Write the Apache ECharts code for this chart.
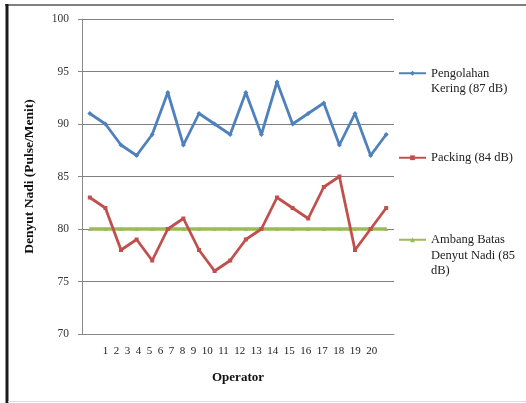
<!DOCTYPE html>
<html>
<head>
<meta charset="utf-8">
<script src="https://cdn.jsdelivr.net/npm/echarts@6/dist/echarts.min.js"></script>
<style>
  html, body { margin: 0; padding: 0; background: #fff; }
  #chart { width: 526px; height: 403px; }
</style>
</head>
<body>
<div id="chart"></div>
<script>
// Operator numbers along the x axis
const operators = ['1','2','3','4','5','6','7','8','9','10','11','12','13','14','15','16','17','18','19','20'];

// Pulse rate (beats per minute) per operator
const pengolahanKering = [91, 90, 88, 87, 89, 93, 88, 91, 90, 89, 93, 89, 94, 90, 91, 92, 88, 91, 87, 89];
const packing = [83, 82, 78, 79, 77, 80, 81, 78, 76, 77, 79, 80, 83, 82, 81, 84, 85, 78, 80, 82];
const ambangBatas = [80, 80, 80, 80, 80, 80, 80, 80, 80, 80, 80, 80, 80, 80, 80, 80, 80, 80, 80, 80];

const seriesNames = [
  'Pengolahan\nKering (87 dB)',
  'Packing (84 dB)',
  'Ambang Batas\nDenyut Nadi (85\ndB)'
];

// Y axis range and tick step
const yMin = 70, yMax = 100, yStep = 5;

const serif = '"Liberation Serif", "Times New Roman", serif';
const colors = ['#4F81BD', '#C0504D', '#9BBB59'];

// Legend text: pad with leading blank lines so the symbol sits beside the first line
function legendText(name) {
  return '\n'.repeat(name.split('\n').length - 1) + name;
}

function makeLegend(idx, top) {
  return {
    data: [seriesNames[idx]],
    left: 398,
    top: top,
    orient: 'vertical',
    itemWidth: 27,
    itemHeight: 6,
    itemGap: 0,
    padding: 0,
    formatter: legendText,
    textStyle: { fontFamily: serif, fontSize: 12.5, color: '#222', lineHeight: 15.5 }
  };
}

const chart = echarts.init(document.getElementById('chart'), null, { renderer: 'canvas' });

chart.setOption({
  backgroundColor: '#fff',
  animation: false,
  color: colors,
  grid: { left: 82, right: 132, top: 19, bottom: 69, containLabel: false },
  legend: [
    makeLegend(0, 50),
    makeLegend(1, 150),
    makeLegend(2, 201)
  ],
  xAxis: [
    {
      type: 'category',
      data: operators,
      boundaryGap: true,
      axisLine: { show: true, lineStyle: { color: '#888', width: 1 } },
      axisTick: { show: false },
      axisLabel: { show: false },
      name: 'Operator',
      nameLocation: 'middle',
      nameGap: 37,
      nameTextStyle: { fontFamily: serif, fontSize: 13, fontWeight: 'bold', color: '#111' }
    },
    {
      type: 'category',
      data: operators,
      position: 'bottom',
      axisLine: { show: false },
      axisTick: { show: false },
      axisLabel: { show: false },
      splitLine: { show: false },
      name: operators.join('\u2002'),
      nameLocation: 'middle',
      nameGap: 12,
      nameTextStyle: { fontFamily: serif, fontSize: 11, color: '#222', padding: [0, 0, 0, 4] }
    }
  ],
  yAxis: {
    type: 'value',
    min: yMin,
    max: yMax,
    interval: yStep,
    axisLine: { show: true, lineStyle: { color: '#888', width: 1 } },
    axisTick: { show: true, inside: false, length: 4, lineStyle: { color: '#888' } },
    axisLabel: { margin: 13, fontFamily: serif, fontSize: 11.5, color: '#333' },
    splitLine: { show: true, lineStyle: { color: '#7f7f7f', width: 1 } },
    name: 'Denyut Nadi (Pulse/Menit)',
    nameLocation: 'middle',
    nameGap: 45,
    nameRotate: 90,
    nameTextStyle: { fontFamily: serif, fontSize: 13.5, fontWeight: 'bold', color: '#111' }
  },
  series: [
    {
      name: seriesNames[0],
      type: 'line',
      data: pengolahanKering,
      symbol: 'diamond',
      symbolSize: 5,
      lineStyle: { width: 2.8, color: colors[0] },
      itemStyle: { color: colors[0] },
      z: 3
    },
    {
      name: seriesNames[1],
      type: 'line',
      data: packing,
      symbol: 'rect',
      symbolSize: 4,
      lineStyle: { width: 2.8, color: colors[1] },
      itemStyle: { color: colors[1] },
      z: 3
    },
    {
      name: seriesNames[2],
      type: 'line',
      data: ambangBatas,
      symbol: 'triangle',
      symbolSize: 4,
      lineStyle: { width: 3.5, color: colors[2] },
      itemStyle: { color: colors[2] },
      z: 2
    }
  ],
  graphic: [
    // chart frame
    { type: 'line', shape: { x1: 5, y1: 5, x2: 526, y2: 5 }, style: { stroke: '#808080', lineWidth: 2 }, silent: true },
    { type: 'line', shape: { x1: 7, y1: 4, x2: 7, y2: 403 }, style: { stroke: '#1a1a1a', lineWidth: 3 }, silent: true },
    { type: 'line', shape: { x1: 8, y1: 401.5, x2: 526, y2: 401.5 }, style: { stroke: '#dddddd', lineWidth: 1 }, silent: true }
  ]
});
</script>
</body>
</html>
